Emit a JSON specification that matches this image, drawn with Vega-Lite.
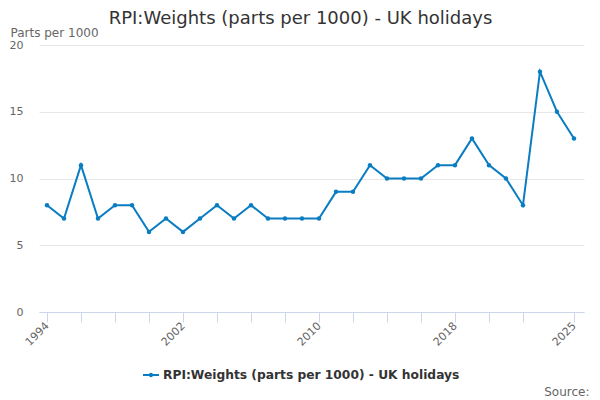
{
  "$schema": "https://vega.github.io/schema/vega-lite/v6.json",
  "width": 545,
  "height": 267,
  "autosize": {"type": "none"},
  "padding": {"left": 39, "top": 45, "right": 16, "bottom": 88},
  "background": "white",
  "config": {
    "font": "DejaVu Sans",
    "view": {"stroke": null}
  },
  "title": {
    "text": "RPI:Weights (parts per 1000) - UK holidays",
    "anchor": "middle",
    "fontSize": 18,
    "fontWeight": "normal",
    "color": "#333333",
    "font": "DejaVu Sans",
    "dx": -11,
    "offset": -2
  },
  "data": {
    "values": [
      {"year": 1994, "value": 8},
      {"year": 1995, "value": 7},
      {"year": 1996, "value": 11},
      {"year": 1997, "value": 7},
      {"year": 1998, "value": 8},
      {"year": 1999, "value": 8},
      {"year": 2000, "value": 6},
      {"year": 2001, "value": 7},
      {"year": 2002, "value": 6},
      {"year": 2003, "value": 7},
      {"year": 2004, "value": 8},
      {"year": 2005, "value": 7},
      {"year": 2006, "value": 8},
      {"year": 2007, "value": 7},
      {"year": 2008, "value": 7},
      {"year": 2009, "value": 7},
      {"year": 2010, "value": 7},
      {"year": 2011, "value": 9},
      {"year": 2012, "value": 9},
      {"year": 2013, "value": 11},
      {"year": 2014, "value": 10},
      {"year": 2015, "value": 10},
      {"year": 2016, "value": 10},
      {"year": 2017, "value": 11},
      {"year": 2018, "value": 11},
      {"year": 2019, "value": 13},
      {"year": 2020, "value": 11},
      {"year": 2021, "value": 10},
      {"year": 2022, "value": 8},
      {"year": 2023, "value": 18},
      {"year": 2024, "value": 15},
      {"year": 2025, "value": 13}
    ]
  },
  "encoding": {
    "x": {
      "field": "year",
      "type": "quantitative",
      "scale": {"domain": [1993.53, 2025.59], "nice": false, "zero": false},
      "axis": {
        "title": "Source:",
        "titleFont": "DejaVu Sans",
        "titleFontSize": 12,
        "titleFontWeight": "normal",
        "titleColor": "#666666",
        "titleAnchor": "start",
        "titleAlign": "right",
        "titleBaseline": "alphabetic",
        "titleX": 550,
        "titleY": 83,
        "values": [1994, 1996, 1998, 2000, 2002, 2004, 2006, 2008, 2010, 2012, 2014, 2016, 2018, 2020, 2022, 2025],
        "labelExpr": "indexof([1994, 2002, 2010, 2018, 2025], datum.value) >= 0 ? datum.value : ''",
        "labelAngle": -45,
        "labelAlign": "right",
        "labelBaseline": "middle",
        "labelFontSize": 11,
        "labelColor": "#666666",
        "labelPadding": 2,
        "labelOverlap": false,
        "labelFlush": false,
        "tickColor": "#ccd6eb",
        "tickSize": 10,
        "domainColor": "#ccd6eb",
        "grid": false
      }
    },
    "y": {
      "field": "value",
      "type": "quantitative",
      "scale": {"domain": [0, 20], "nice": false},
      "axis": {
        "title": "Parts per 1000",
        "titleAngle": 0,
        "titleAlign": "left",
        "titleBaseline": "middle",
        "titleX": -29,
        "titleY": -13,
        "titleFontSize": 12,
        "titleFontWeight": "normal",
        "titleColor": "#666666",
        "values": [0, 5, 10, 15, 20],
        "labelFontSize": 11,
        "labelColor": "#666666",
        "labelPadding": 16,
        "ticks": false,
        "domain": false,
        "grid": true,
        "gridColor": "#e6e6e6"
      }
    },
    "color": {
      "datum": "RPI:Weights (parts per 1000) - UK holidays",
      "type": "nominal",
      "scale": {"range": ["#0a7dc2"]},
      "legend": {
        "title": null,
        "orient": "none",
        "legendX": 104,
        "legendY": 322,
        "padding": 0,
        "labelFontSize": 12.25,
        "labelFontWeight": "bold",
        "labelColor": "#333333",
        "labelFont": "DejaVu Sans",
        "labelLimit": 500,
        "symbolType": "M-1,-0.12L1,-0.12L1,0.12L-1,0.12Z M0.28,0A0.28,0.28 0 1,1 -0.28,0A0.28,0.28 0 1,1 0.28,0Z",
        "symbolSize": 256,
        "symbolStrokeWidth": 0,
        "symbolFillColor": "#0a7dc2",
        "labelOffset": 4
      }
    }
  },
  "layer": [
    {"mark": {"type": "line", "strokeWidth": 2}},
    {"mark": {"type": "point", "filled": true, "size": 20, "opacity": 1}}
  ]
}
